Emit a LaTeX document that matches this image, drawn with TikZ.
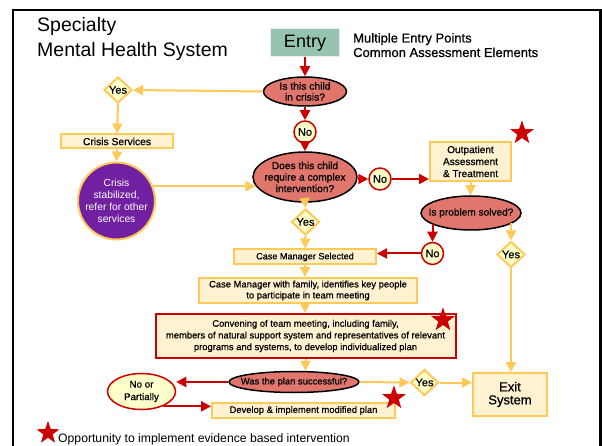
\documentclass[tikz,border=0pt]{standalone}
\usepackage{fontspec}
\setmainfont{Liberation Sans}
\newfontfamily\boxfont{Liberation Sans}[FakeBold=0.7]
\usepackage{tikz}
\usetikzlibrary{positioning, shapes.geometric, arrows.meta}
\usepackage{xcolor}
\definecolor{flowred}{RGB}{204, 0, 0}
\definecolor{flowgold}{RGB}{255, 201, 87}
\definecolor{boxcream}{RGB}{255, 242, 208}
\definecolor{paleyellow}{RGB}{255, 255, 204}
\definecolor{salmon}{RGB}{224, 118, 108}
\definecolor{entrygreen}{RGB}{150, 196, 176}
\definecolor{crisispurple}{RGB}{112, 32, 160}

\tikzset{
    question/.style={ellipse, draw=black, line width=1.5pt, fill=salmon,
        inner xsep=-9pt, inner ysep=-3pt, align=center,
        font=\boxfont\fontsize{10.3}{11}\selectfont},
    stepbox/.style={rectangle, draw=flowgold, line width=2pt, fill=boxcream,
        inner sep=0pt, align=center, font=\boxfont\fontsize{9.4}{11.7}\selectfont},
    yesdiamond/.style={diamond, draw=flowgold, line width=2pt, fill=paleyellow,
        inner sep=0pt, minimum width=28pt, minimum height=26pt,
        font=\boxfont\fontsize{11}{12}\selectfont},
    nocircle/.style={circle, draw=flowred, line width=1.5pt, fill=paleyellow,
        inner sep=0pt, minimum size=22pt, font=\boxfont\fontsize{11}{12}\selectfont},
    ebstar/.style={star, star points=5, star point ratio=2.5, fill=flowred,
        draw=none, inner sep=0pt, minimum size=25pt},
    goldarrow/.style={draw=flowgold, line width=2pt, -{Triangle[length=10pt, width=10pt]}},
    redarrow/.style={draw=flowred, line width=2pt, -{Triangle[length=10pt, width=10pt]}},
}

\begin{document}
\begin{tikzpicture}[x=1pt, y=-1pt]
    % Page - same size as the slide: 602 x 446
    \useasboundingbox (0,0) rectangle (602, 446);
    \fill[white] (0,0) rectangle (602, 446);

    % Frame (open at the bottom)
    \draw[black, line width=2.5pt] (13, 446) -- (13, 10) -- (600.5, 10) -- (600.5, 446);

    % Title
    \node[anchor=base west, inner sep=0pt, font=\fontsize{19.5}{24}\selectfont]
        (title1) at (37, 32) {Specialty};
    \node[anchor=base west, inner sep=0pt, font=\fontsize{19.5}{24}\selectfont]
        (title2) at (37, 57) {Mental Health System};

    % Entry and its note
    \node[stepbox, fill=entrygreen, draw=black!8, line width=1pt,
        minimum width=69pt, minimum height=28pt, font=\fontsize{18}{20}\selectfont]
        (entry) at (305, 43) {Entry};
    \node[anchor=base west, inner sep=0pt, font=\boxfont\fontsize{13}{15}\selectfont]
        (note1) at (353, 42.5) {Multiple Entry Points};
    \node[anchor=base west, inner sep=0pt, font=\boxfont\fontsize{13}{15}\selectfont]
        (note2) at (353, 57) {Common Assessment Elements};

    % Crisis question
    \node[question, minimum width=83pt, minimum height=29pt]
        (crisis) at (305, 91.5) {Is this child\\in crisis?};
    \node[nocircle] (noA) at (305, 132) {No};

    % Crisis branch on the left
    \node[yesdiamond] (yesL) at (118, 90) {Yes};
    \node[stepbox, minimum width=112pt, minimum height=14pt, font=\boxfont\fontsize{10.3}{12}\selectfont]
        (crisisSvc) at (117, 141.5) {Crisis Services};
    \node[circle, fill=crisispurple, draw=flowgold, line width=2pt, inner sep=0pt,
        minimum size=77pt, text=white, align=center, font=\fontsize{10.3}{12}\selectfont]
        (stab) at (116.5, 201) {Crisis\\stabilized,\\refer for other\\services};

    % Complex intervention question
    \node[question, minimum width=104pt, minimum height=50pt, font=\boxfont\fontsize{10.2}{11.5}\selectfont]
        (cplx) at (305, 177) {Does this child\\require a complex\\intervention?};
    \node[nocircle] (noB) at (380, 179) {No};

    % Outpatient branch on the right
    \node[stepbox, minimum width=81pt, minimum height=39pt, font=\boxfont\fontsize{10.1}{12}\selectfont]
        (outp) at (470.5, 161.5) {Outpatient\\Assessment\\\& Treatment};
    \node[ebstar] (starOut) at (522, 133) {};
    \node[question, minimum width=100pt, minimum height=34pt, font=\boxfont\fontsize{10.1}{12}\selectfont]
        (solved) at (471, 213) {Is problem solved?};
    \node[nocircle] (noC) at (432.5, 253.5) {No};
    \node[yesdiamond] (yesR) at (511, 254.5) {Yes};
    \node[stepbox, minimum width=74pt, minimum height=43pt, font=\boxfont\fontsize{13}{13}\selectfont]
        (exit) at (510, 394.5) {Exit\\System};

    % Case management steps
    \node[yesdiamond] (yesM) at (305.5, 222) {Yes};
    \node[stepbox, minimum width=142pt, minimum height=15pt, font=\boxfont\fontsize{9.1}{11}\selectfont]
        (cms) at (305, 257) {Case Manager Selected};
    \node[stepbox, minimum width=218pt, minimum height=25pt, font=\boxfont\fontsize{9.4}{11}\selectfont]
        (cmf) at (308, 290.5) {Case Manager with family, identifies key people\\to participate in team meeting};
    \node[stepbox, draw=flowred, minimum width=300pt, minimum height=44pt]
        (conv) at (305.5, 336) {Convening of team meeting, including family,\\members of natural support system and representatives of relevant\\programs and systems, to develop individualized plan};
    \node[ebstar] (starConv) at (443, 320) {};

    % Plan review
    \node[question, minimum width=130pt, minimum height=21pt, font=\boxfont\fontsize{9.4}{11}\selectfont]
        (plan) at (294, 382) {Was the plan successful?};
    \node[ellipse, draw=flowred, line width=1.5pt, fill=paleyellow, inner sep=0pt,
        minimum width=68pt, minimum height=36pt, align=center, font=\boxfont\fontsize{9.8}{12.5}\selectfont]
        (noP) at (141.5, 391.5) {No or\\Partially};
    \node[stepbox, minimum width=183pt, minimum height=15pt]
        (devel) at (303.5, 410.5) {Develop \& implement modified plan};
    \node[ebstar] (starDev) at (394, 398) {};
    \node[yesdiamond] (yesB) at (424.5, 382.5) {Yes};

    % Legend
    \node[ebstar, minimum size=24pt] (starNote) at (48, 433) {};
    \node[anchor=base west, inner sep=0pt, font=\fontsize{12.2}{15}\selectfont]
        (legend) at (58, 442.5) {Opportunity to implement evidence based intervention};

    % Connectors - crisis branch
    \draw[redarrow] (entry.south) -- (crisis.north);
    \draw[goldarrow] (crisis.west) -- (yesL.east);
    \draw[goldarrow] (yesL.south) -- (crisisSvc.north);
    \draw[goldarrow] (crisisSvc.south) -- (stab.north);
    \draw[goldarrow] (stab.22) -- (stab.22 -| cplx.190);

    % Connectors - main line
    \draw[redarrow] (crisis.south) -- (noA.north);
    \draw[redarrow] (noA.south) -- (cplx.north);
    \draw[redarrow] (noB.west -| cplx.east) -- (noB.west);
    \draw[redarrow] (noB.east) -- (noB.east -| outp.west);
    \draw[goldarrow] (cplx.south) -- (yesM.north);
    \draw[goldarrow] (yesM.south) -- (cms.north);
    \draw[goldarrow] (cms.south) -- (cms.south |- cmf.north);
    \draw[goldarrow] (cms.south |- cmf.south) -- (cms.south |- conv.north);
    \draw[goldarrow] (conv.south) -- (conv.south |- plan.north);

    % Connectors - outpatient branch
    \draw[goldarrow] (outp.south) -- (outp.south |- solved.north);
    \draw[redarrow] (noC.north |- solved.-164) -- (noC.north);
    \draw[redarrow] (noC.west) -- (noC.west -| cms.east);
    \draw[goldarrow] (yesR.north |- solved.-14) -- (yesR.north);
    \draw[goldarrow] (yesR.south) -- (yesR.south |- exit.north);

    % Connectors - plan review
    \draw[redarrow] (plan.west) -- (plan.west -| noP.east);
    \draw[redarrow] (noP.-35) -- (noP.-35 -| devel.west);
    \draw[goldarrow] (plan.east) -- (yesB.west);
    \draw[goldarrow] (yesB.east) -- (yesB.east -| exit.west);

\end{tikzpicture}
\end{document}
